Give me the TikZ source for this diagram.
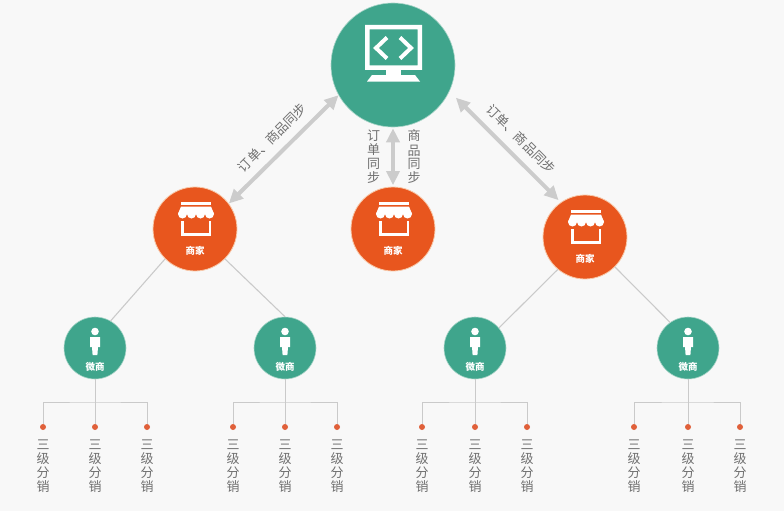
\documentclass[tikz,border=0pt]{standalone}
\usepackage{fontspec}
\setmainfont{Noto Sans CJK SC}
\usetikzlibrary{arrows.meta}
\definecolor{bgc}{HTML}{F8F8F8}
\definecolor{greenc}{HTML}{3FA58C}
\definecolor{greenr}{HTML}{A8D5C8}
\definecolor{orangec}{HTML}{E8561E}
\definecolor{oranger}{HTML}{F8C8A8}
\definecolor{dotc}{HTML}{E0603A}
\definecolor{linec}{HTML}{CACACA}
\definecolor{arrowc}{HTML}{CCCCCC}
\definecolor{textc}{HTML}{707070}
\tikzset{
  hub/.style={circle,fill=greenc,draw=greenr,line width=.6pt,minimum size=124pt,inner sep=0pt},
  shop/.style={circle,fill=orangec,draw=oranger,line width=.8pt,minimum size=84pt,inner sep=0pt},
  agent/.style={circle,fill=greenc,draw=greenr,line width=.6pt,minimum size=62pt,inner sep=0pt},
  leaf/.style={circle,fill=dotc,minimum size=6pt,inner sep=0pt},
  sync/.style={draw=arrowc,line width=4pt,{Triangle[length=14pt,width=13pt]}-{Triangle[length=14pt,width=13pt]}},
  link/.style={draw=linec,line width=1.1pt},
  buslink/.style={draw=linec,line width=.8pt},
  iconlabel/.style={text=white,font=\fontsize{9.5}{10}\selectfont\bfseries,inner sep=0pt},
  grey/.style={text=textc,font=\fontsize{13}{14}\selectfont,inner sep=0pt,align=center},
}
\newcommand{\storeglyph}[2]{%
  \begin{scope}[shift={(#1,#2)}]
    \fill[white] (-14,-27.5) rectangle (16,-24);
    \fill[white] (-14,-22.5) -- (16,-22.5) -- (19,-15) -- (-17,-15) -- cycle;
    \foreach \cx in {-12.5,-3.5,5.5,14.5}{\fill[white] (\cx,-15) circle (4.5);}
    \draw[white,line width=2.4pt] (-12.5,-8) -- (-12.5,5.5) -- (15,5.5) -- (15,-8);
  \end{scope}}
\newcommand{\personglyph}[2]{%
  \begin{scope}[shift={(#1,#2)}]
    \fill[white] (0,-16.5) circle (3.8);
    \fill[white] (-5,-11) -- (5,-11) -- (5,-1) -- (3,-1) -- (2.4,7) -- (-2.4,7) -- (-3,-1) -- (-5,-1) -- cycle;
  \end{scope}}
\begin{document}
\begin{tikzpicture}[x=1pt,y=-1pt]
\path[fill=bgc] (0,0) rectangle (784,511);
\useasboundingbox (0,0) rectangle (784,511);

\node[hub] (top) at (393,65) {};
\node[shop] (m1) at (195,229) {};
\node[shop] (m2) at (393,229) {};
\node[shop] (m3) at (585,237) {};
\node[agent] (w1) at (95,348) {};
\node[agent] (w2) at (285,348) {};
\node[agent] (w3) at (475,348) {};
\node[agent] (w4) at (688,348) {};

% monitor
\fill[white,even odd rule] (365,25) rectangle (422,70) (369.5,29.5) rectangle (417.5,65.5);
\fill[white] (386,70) rectangle (401,74.5);
\fill[white] (372,75) -- (415,75) -- (420,81.5) -- (367,81.5) -- cycle;
\draw[white,line width=4pt] (387,37.5) -- (376,48) -- (387,58.5);
\draw[white,line width=4pt] (400,37.5) -- (411,48) -- (400,58.5);

% sync arrows
\draw[sync] (top.209) -- (m1.37);
\draw[sync,shorten <=1pt,shorten >=1.5pt] (top.south) -- (m2.north);
\draw[sync,shorten <=9pt,shorten >=3pt] (top.-25) -- (m3.125);

\node[grey,rotate=45] (lbl1) at (272.5,137.5) {订单、商品同步};
\node[grey,rotate=-45] (lbl2) at (521,139) {订单、商品同步};
\node[grey] (lbl3) at (373.5,157) {订\\单\\同\\步};
\node[grey] (lbl4) at (414,157) {商\\品\\同\\步};

% shops
\storeglyph{195}{229}
\storeglyph{393}{229}
\storeglyph{585}{237}
\node[iconlabel] (s1) at (195,250.5) {商家};
\node[iconlabel] (s2) at (393,250.5) {商家};
\node[iconlabel] (s3) at (585,258.5) {商家};

% agents
\personglyph{95}{348}
\personglyph{285}{348}
\personglyph{475}{348}
\personglyph{688}{348}
\node[iconlabel] (a1) at (95,366.5) {微商};
\node[iconlabel] (a2) at (285,366.5) {微商};
\node[iconlabel] (a3) at (475,366.5) {微商};
\node[iconlabel] (a4) at (688,366.5) {微商};

% shop to agent links
\draw[link] (m1.225) -- (w1.60);
\draw[link] (m1.-45) -- (w2.90);
\draw[link] (m3.230) -- (w3.40);
\draw[link] (m3.-45) -- (w4.125);

% leaves
\foreach \g/\xa/\xb/\xc in {1/43/95/147,2/233/285/337,3/422/475/527,4/634/688/740}{
  \node[leaf] (d\g a) at (\xa,427) {};
  \node[leaf] (d\g b) at (\xb,427) {};
  \node[leaf] (d\g c) at (\xc,427) {};
  \coordinate (bus\g) at (\xb,402);
  \draw[buslink] (w\g) -- (d\g b);
  \draw[buslink] (d\g a) |- (bus\g) -| (d\g c);
  \node[grey] (t\g a) at (\xa,466.5) {三\\级\\分\\销};
  \node[grey] (t\g b) at (\xb,466.5) {三\\级\\分\\销};
  \node[grey] (t\g c) at (\xc,466.5) {三\\级\\分\\销};
}
\end{tikzpicture}
\end{document}
